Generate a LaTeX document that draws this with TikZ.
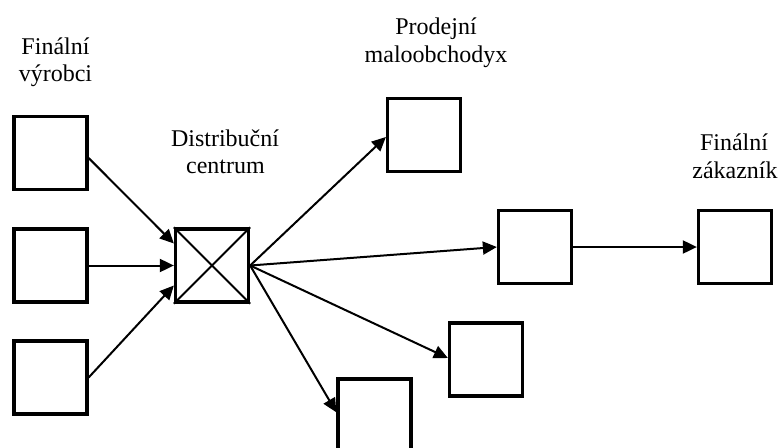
\documentclass[tikz,border=0pt]{standalone}
\usepackage{fontspec}
\setmainfont{Liberation Serif}
\usetikzlibrary{arrows.meta}
\begin{document}
\begin{tikzpicture}[x=1pt,y=-1pt,
  box/.style={draw=black, line width=3.3pt, minimum width=73pt, minimum height=73pt, inner sep=0pt, fill=white},
  lbl/.style={anchor=base, inner sep=0pt, font=\fontsize{24pt}{28pt}\selectfont},
  arr/.style={line width=2pt, -{Triangle[length=14pt,width=13pt]}},
  crossline/.style={line width=2pt}]
\useasboundingbox (0,0) rectangle (778,447);
\clip (0,0) rectangle (778,447);
% boxes
\node[box] (p1) at (50.5,153) {};
\node[box] (p2) at (50.5,265.5) {};
\node[box] (p3) at (50.5,377.5) {};
\node[box] (dc) at (212,265.5) {};
\node[box] (r1) at (424,135) {};
\node[box] (r2) at (535,247) {};
\node[box] (r3) at (486,359.5) {};
\node[box] (r4) at (374.5,415.5) {};
\node[box] (fz) at (735,247) {};
% cross in distribution centre
\draw[crossline] (dc.north west) -- (dc.south east);
\draw[crossline] (dc.north east) -- (dc.south west);
% labels
\node[lbl] (fv1) at (55.5,54) {Finální};
\node[lbl] (fv2) at (55.5,81) {výrobci};
\node[lbl] (dc1) at (225,146) {Distribuční};
\node[lbl] (dc2) at (225.5,173) {centrum};
\node[lbl] (pm1) at (436,34) {Prodejní};
\node[lbl] (pm2) at (436,62) {maloobchodyx};
\node[lbl] (fz1) at (734,150) {Finální};
\node[lbl] (fz2) at (735,178) {zákazník};
% connectors
\draw[arr] ([yshift=-5pt]p1.east) -- ([yshift=22pt]dc.west);
\draw[arr] (p2.east) -- (dc.west);
\draw[arr] (p3.east) -- ([yshift=-20pt]dc.west);
\draw[arr] (dc.east) -- ([yshift=-2pt]r1.west);
\draw[arr] (dc.east) -- (r2.west);
\draw[arr] (dc.east) -- ([yshift=1.5pt]r3.west);
\draw[arr] (dc.east) -- ([yshift=-35pt]r4.north west);
\draw[arr] (r2.east) -- (fz.west);
\end{tikzpicture}
\end{document}
